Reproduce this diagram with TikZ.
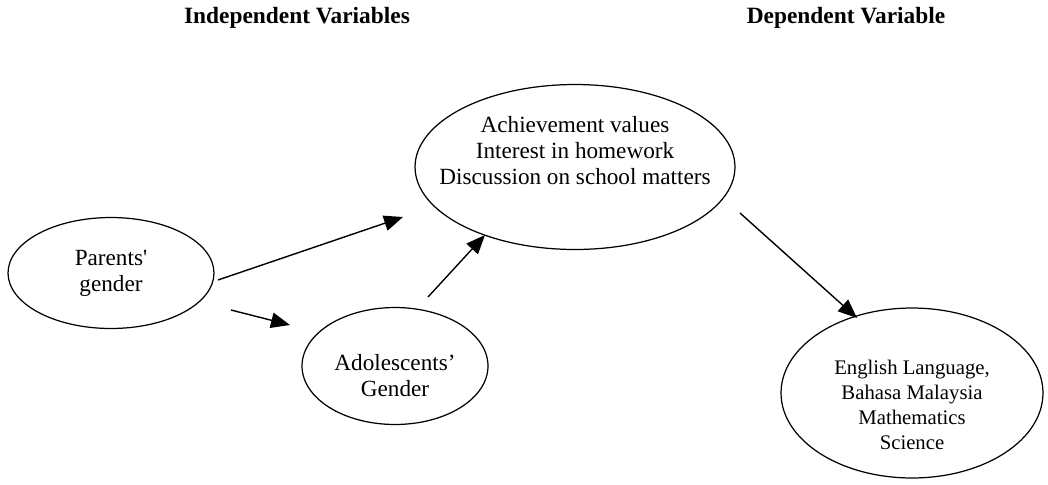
\documentclass[tikz,border=0pt]{standalone}
\usepackage{fontspec}
\setmainfont{Liberation Serif}
\usetikzlibrary{shapes.geometric, arrows.meta}

\begin{document}
\begin{tikzpicture}[x=0.02cm, y=-0.02cm,
    every node/.style={font=\fontsize{13.2}{14.8}\selectfont, align=center},
    var/.style={draw, ellipse, line width=0.7pt, inner xsep=-1cm, inner ysep=-0.3cm},
    head/.style={font=\fontsize{13.3}{15}\selectfont\bfseries},
    arr/.style={-{Triangle[length=3.8mm, width=3.1mm]}, line width=0.8pt}]

    \useasboundingbox (0,0) rectangle (1048,484);

    \node[head] (indep) at (297,18) {Independent Variables};
    \node[head] (dep) at (846,18) {Dependent Variable};

    \node[var, minimum width=4.12cm, minimum height=2.22cm] (parents) at (111,273) {Parents\textquotesingle\\gender};
    \node[var, minimum width=3.72cm, minimum height=2.34cm] (adol) at (395,366) {\mbox{}\\[5.1pt]Adolescents’\\Gender};
    \node[var, minimum width=6.4cm, minimum height=3.3cm] (values) at (575,167) {Achievement values\\Interest in homework\\Discussion on school matters\\[4pt]\mbox{}};
    \node[var, minimum width=5.24cm, minimum height=3.4cm, font=\fontsize{11.8}{14.2}\selectfont] (subjects) at (912,393) {\mbox{}\\[7.1pt]English Language,\\Bahasa Malaysia\\Mathematics\\Science};

    \coordinate (parents-out) at (218,280);
    \coordinate (values-in) at (403,217);
    \coordinate (parents-down) at (231,310);
    \coordinate (adol-in) at (290,325);
    \coordinate (adol-out) at (428,297);
    \coordinate (values-low) at (485,235);
    \coordinate (values-out) at (740,213);
    \coordinate (subjects-in) at (857,318);

    \draw[arr] (parents-out) -- (values-in);
    \draw[arr] (parents-down) -- (adol-in);
    \draw[arr] (adol-out) -- (values-low);
    \draw[arr] (values-out) -- (subjects-in);

\end{tikzpicture}
\end{document}
